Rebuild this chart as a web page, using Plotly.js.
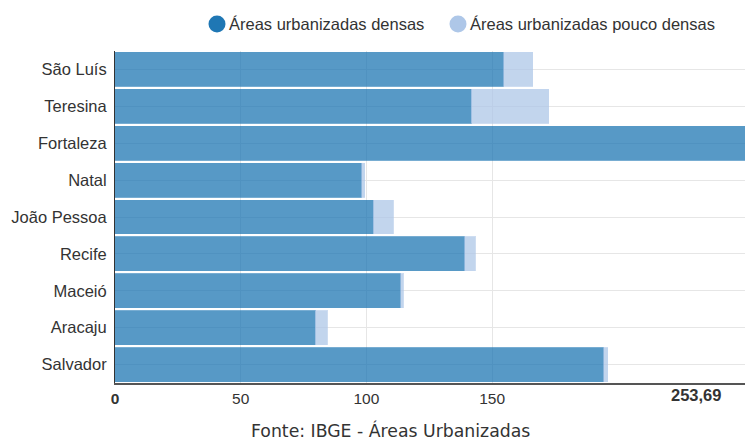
<!DOCTYPE html>
<html>
<head>
<meta charset="utf-8">
<script src="https://cdn.plot.ly/plotly-3.0.1.min.js"></script>
<style>html,body{margin:0;padding:0;background:#fff;}#chart{width:745px;height:443px;}</style>
</head>
<body>
<div id="chart"></div>
<script>
// Data
const cities = ['São Luís','Teresina','Fortaleza','Natal','João Pessoa','Recife','Maceió','Aracaju','Salvador'];
const densas = [154.7, 141.7, 253.69, 98.1, 102.7, 139.1, 113.6, 79.6, 194.5];
const poucoDensas = [11.5, 30.9, 0, 1.3, 8.0, 4.2, 1.1, 4.8, 1.6];
const seriesNames = ['Áreas urbanizadas densas', 'Áreas urbanizadas pouco densas'];
const seriesColors = ['#1f77b4', '#aec7e8'];
const tickValues = [0, 50, 100, 150];
const tickLabels = ['<b>0</b>', '50', '100', '150'];
const axisMax = 253.69;
const sourceText = 'Fonte: IBGE - Áreas Urbanizadas';

// Layout geometry (pixels)
const W = 745, H = 443, ML = 115, MR = 0, MT = 51, MB = 60;
const PW = W - ML - MR, PH = H - MT - MB, PB = H - MB;
const px2x = p => (p - ML) / PW;
const py2y = p => (PB - p) / PH;
const legendCircleX = [217, 458], legendY = 24, legendR = 8.5;

const traces = [
  {type:'bar', orientation:'h', y:cities, x:densas, name:seriesNames[0],
   marker:{color:seriesColors[0], opacity:0.75, line:{color:'rgba(31,119,180,0.8)', width:1}}, hoverinfo:'x+y'},
  {type:'bar', orientation:'h', y:cities, x:poucoDensas, name:seriesNames[1],
   marker:{color:seriesColors[1], opacity:0.75, line:{color:'rgba(174,199,232,0.8)', width:1}}, hoverinfo:'x+y'}
];

const shapes = [];
const annotations = [];
seriesNames.forEach((nm, i) => {
  shapes.push({type:'circle', xref:'paper', yref:'paper', xsizemode:'pixel', ysizemode:'pixel',
    xanchor: px2x(legendCircleX[i]), yanchor: py2y(legendY),
    x0:-legendR, x1:legendR, y0:-legendR, y1:legendR,
    fillcolor: seriesColors[i], line:{width:0}});
  annotations.push({xref:'paper', yref:'paper', x: px2x(legendCircleX[i] + 10), y: py2y(legendY),
    xanchor:'left', yanchor:'middle', text: nm, showarrow:false,
    font:{size:16.5, color:'#333'}});
});
annotations.push({xref:'paper', yref:'paper', x:1, y:0, xanchor:'right', yanchor:'middle', xshift:-22, yshift:-12,
  text:'<b>' + axisMax.toFixed(2).replace('.', ',') + '</b>', showarrow:false,
  font:{size:16.5, color:'#333'}});
annotations.push({xref:'paper', yref:'paper', x: px2x(390), y:0, xanchor:'center', yanchor:'middle', yshift:-47,
  text: sourceText, showarrow:false,
  font:{family:'"DejaVu Sans", Verdana, sans-serif', size:17.3, color:'#333'}});

const layout = {
  width: W, height: H,
  margin: {l: ML, r: MR, t: MT, b: MB, pad: 0},
  paper_bgcolor: '#fff', plot_bgcolor: '#fff',
  barmode: 'stack', bargap: 0.08,
  font: {family: '"Liberation Sans", Arial, sans-serif', color: '#333', size: 16},
  showlegend: false,
  xaxis: {range: [0, 250.6], tickvals: tickValues, ticktext: tickLabels, ticks: '',
          showgrid: true, gridcolor: '#e6e6e6', zeroline: false,
          showline: true, linecolor: '#555', linewidth: 2,
          tickfont: {size: 15.5, color: '#333'}, fixedrange: true},
  yaxis: {type: 'category', autorange: 'reversed', showgrid: true, gridcolor: '#e6e6e6',
          showline: true, linecolor: '#333', linewidth: 1, ticks: '', ticklabelstandoff: 4,
          tickfont: {size: 16.5, color: '#333'}, zeroline: false, fixedrange: true},
  shapes: shapes,
  annotations: annotations
};

Plotly.newPlot('chart', traces, layout, {displayModeBar: false, staticPlot: true});
</script>
</body>
</html>
